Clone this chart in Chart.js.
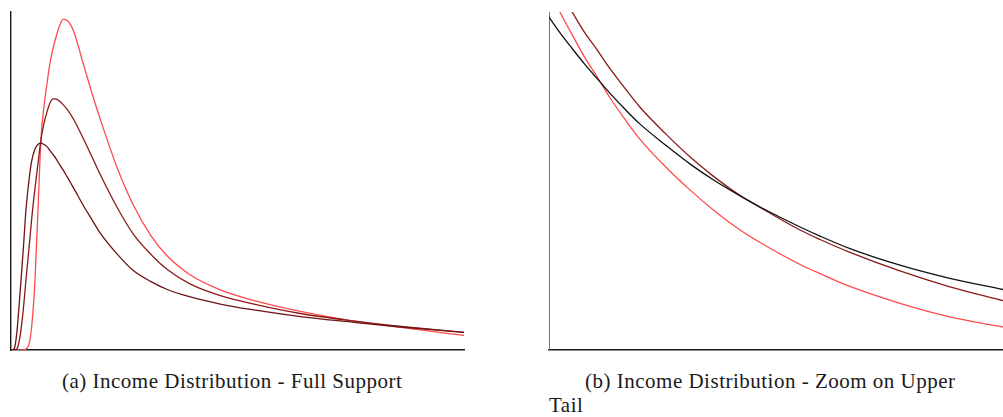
<!DOCTYPE html>
<html>

<head>
    <meta charset="utf-8">
    <title>income distribution</title>
    <script src="https://cdn.jsdelivr.net/npm/chart.js"></script>
    <style>
        html, body { margin: 0; padding: 0; background: #fff; overflow: hidden; width: 1003px; height: 417px; }
        .panel { position: absolute; }
        .cap { position: absolute; font-family: "Liberation Serif", serif; font-size: 21px; letter-spacing: 0.5px; line-height: 24px; color: #1a1a1a; white-space: nowrap; }
    </style>
</head>

<body>
    <canvas id="full" class="panel" width="457" height="342" style="left: 9px; top: 10px;"></canvas>
    <canvas id="tail" class="panel" width="458" height="342" style="left: 547px; top: 10px;"></canvas>
    <div class="cap" style="left: 62px; top: 369px;">(a) Income Distribution - Full Support</div>
    <div class="cap" style="left: 585px; top: 369px;">(b) Income Distribution - Zoom on Upper</div>
    <div class="cap" style="left: 549px; top: 393px;">Tail</div>
    <script>
    // full support: income grid and densities
    var fullIncome = [0, 0.7, 1.3, 2, 2.7, 3.3, 4, 4.6, 5.3, 6, 6.6, 7.3, 8, 8.6, 9.3, 10, 10.8, 11.5, 12.4, 13.3,
        14.2, 15.9, 17.9, 19.7, 23.5, 27, 30.8, 34.5, 39.6, 46.2, 52.9, 63.9, 75, 86.1, 100];
    var fullDensity1 = [0, 0.3, 5.3, 16.9, 29.6, 41.4, 50.6, 56.2, 59.5, 60.9, 61.2, 60.8, 60.1, 59.0, 57.8, 56.5, 54.7, 53.3, 51.2, 49.1,
        47.0, 42.9, 38.5, 34.6, 28.3, 23.5, 20.3, 17.9, 15.7, 13.6, 12.0, 9.9, 8.3, 6.8, 5.2];
    var fullDensity2 = [0, 0, 0.3, 4.1, 11.8, 20.7, 30.5, 39.3, 47.9, 55.6, 62.1, 67.2, 70.7, 73.1, 74.3, 74.2, 73.5, 72.6, 71.2, 69.4,
        67.3, 62.7, 57.1, 51.9, 42.0, 34.3, 28.4, 23.8, 19.5, 16.1, 13.8, 10.8, 8.7, 7.0, 5.2];
    var fullDensity3 = [0, 0, 0, 0, 0, 0.3, 1.8, 7.4, 20.7, 42.9, 62.1, 72.2, 79.3, 84.9, 89.3, 92.9, 96.2, 97.8, 97.5, 95.9,
        92.9, 84.9, 75.9, 68.3, 53.7, 42.9, 34.0, 27.8, 22.2, 17.8, 14.9, 11.4, 8.7, 6.7, 4.3];

    // upper tail zoom
    var tailIncome = [0, 2.4, 5.1, 7.9, 10.6, 13.4, 16.7, 20.0, 25.6, 31.1, 36.6, 42.1, 46.5, 55.3, 59.7, 66.3, 77.3, 88.3, 100];
    var tailDensity1 = [98.5, 93.9, 89.2, 84.5, 80.3, 76.0, 71.3, 66.9, 60.7, 55.0, 50.0, 45.6, 42.3, 36.4, 33.7, 30.0, 25.1, 21.2, 17.9];
    var tailDensity2 = [111.5, 105.9, 100, 93.8, 88.8, 83.3, 77.5, 71.9, 64.1, 57.1, 51.0, 45.7, 42.2, 35.5, 32.7, 28.9, 23.4, 18.7, 14.6];
    var tailDensity3 = [106.5, 100, 93.3, 86.5, 80.8, 74.7, 68.3, 62.4, 54.3, 47.3, 41.0, 35.5, 31.8, 25.3, 22.6, 18.8, 13.8, 9.8, 6.8];

    function pts(xs, ys) {
        return xs.map(function (x, i) { return { x: x, y: ys[i] }; });
    }

    function line(xs, ys, color) {
        return {
            data: pts(xs, ys),
            borderColor: color,
            borderWidth: 1.3,
            pointRadius: 0,
            fill: false,
            cubicInterpolationMode: 'monotone',
            clip: 0
        };
    }

    function makeChart(id, datasets, yAxisColor, yAxisWidth) {
        var ctx = document.getElementById(id).getContext('2d');
        return new Chart(ctx, {
            type: 'line',
            data: { datasets: datasets },
            options: {
                responsive: false,
                animation: false,
                layout: { padding: { left: 2, top: 2, right: 2, bottom: 2 } },
                plugins: { legend: { display: false }, tooltip: { enabled: false } },
                scales: {
                    x: {
                        type: 'linear', min: 0, max: 100,
                        grid: { display: false, drawTicks: false },
                        ticks: { display: false },
                        border: { display: true, color: '#1a1a1a', width: 1.6 }
                    },
                    y: {
                        min: 0, max: 100,
                        grid: { display: false, drawTicks: false },
                        ticks: { display: false },
                        border: { display: true, color: yAxisColor, width: yAxisWidth }
                    }
                }
            }
        });
    }

    makeChart('full', [
        line(fullIncome, fullDensity1, '#6e1212'),
        line(fullIncome, fullDensity2, '#8b1a1a'),
        line(fullIncome, fullDensity3, '#ff4a4a')
    ], '#1a1a1a', 1.4);

    makeChart('tail', [
        line(tailIncome, tailDensity1, '#111111'),
        line(tailIncome, tailDensity2, '#8b1a1a'),
        line(tailIncome, tailDensity3, '#ff4a4a')
    ], '#777777', 1);
    </script>
</body>

</html>
